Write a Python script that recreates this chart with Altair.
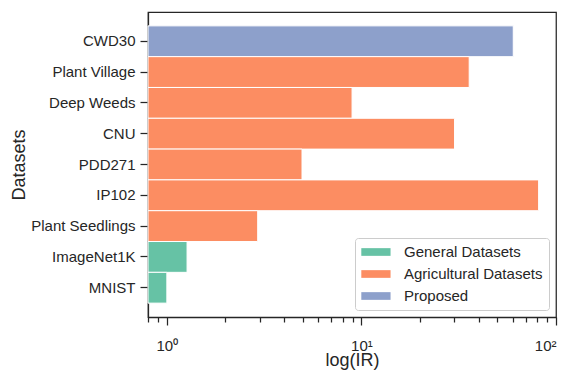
import math
import altair as alt
import pandas as pd

categories = ["CWD30", "Plant Village", "Deep Weeds", "CNU", "PDD271", "IP102",
              "Plant Seedlings", "ImageNet1K", "MNIST"]
ir_values = [60.3, 35.8, 8.95, 30.1, 4.95, 81.4, 2.93, 1.27, 1.0]
groups = ["Proposed", "Agricultural Datasets", "Agricultural Datasets",
          "Agricultural Datasets", "Agricultural Datasets", "Agricultural Datasets",
          "Agricultural Datasets", "General Datasets", "General Datasets"]
group_order = ["General Datasets", "Agricultural Datasets", "Proposed"]
group_colors = ["#66c2a5", "#fc8d62", "#8da0cb"]
x_min, x_max = 0.8, 100
x_ticks = [0.8, 0.9, 1, 2, 3, 4, 5, 6, 7, 8, 9, 10, 20, 30, 40, 50, 60, 70, 80, 90, 100]

df = pd.DataFrame({"Dataset": categories, "IR": ir_values, "Group": groups})

# log axis drawn on a linear scale of log10 values (log-scale bars do not render here)
log_ticks = [math.log10(t) for t in x_ticks]
log_domain = [math.log10(x_min), math.log10(x_max)]

FONT = "Liberation Sans"
INK = "#262626"
MAJOR = "abs(datum.value - round(datum.value)) < 1e-9"

chart = alt.Chart(df).transform_calculate(
    logIR="log(datum.IR) / LN10"
).mark_bar(stroke="white", strokeWidth=1).encode(
    y=alt.Y(
        "Dataset:N",
        sort=categories,
        scale=alt.Scale(paddingInner=0, paddingOuter=0.45),
        axis=alt.Axis(
            title="Datasets", titleFontSize=18, titleFont=FONT, titleColor=INK,
            titleFontWeight="normal", titleX=-124, titleBaseline="alphabetic",
            labelFontSize=15, labelFont=FONT, labelColor=INK, labelPadding=5,
            tickSize=8, tickWidth=1.25, tickColor=INK,
            domainColor=INK, domainWidth=1.25,
        ),
    ),
    x=alt.X(
        "logIR:Q",
        scale=alt.Scale(domain=log_domain, nice=False, zero=False),
        axis=alt.Axis(
            title="log(IR)", titleFontSize=18, titleFont=FONT, titleColor=INK,
            titleFontWeight="normal", titleY=48, titleBaseline="alphabetic",
            values=log_ticks,
            labelExpr="abs(datum.value) < 1e-9 ? '10⁰' : abs(datum.value - 1) < 1e-9 ? '10¹' : abs(datum.value - 2) < 1e-9 ? '10²' : ''",
            labelOverlap=False, labelFlush=True,
            labelFontSize=15, labelFont=FONT, labelColor=INK,
            labelBaseline="alphabetic", labelPadding=25,
            tickSize={"condition": {"test": MAJOR, "value": 8}, "value": 5},
            tickWidth=1.25, tickColor=INK,
            domainColor=INK, domainWidth=1.25, grid=False,
        ),
    ),
    x2=alt.datum(log_domain[0]),
    color=alt.Color(
        "Group:N",
        title=None,
        scale=alt.Scale(domain=group_order, range=group_colors),
        legend=alt.Legend(
            orient="bottom-right", offset=7, padding=6,
            strokeColor="#cccccc", cornerRadius=3, fillColor="white",
            labelFontSize=15, labelFont=FONT, labelColor=INK,
            symbolType="M-1,-0.5H2.8V0.5H-1Z", symbolSize=237, symbolStrokeWidth=0,
            symbolOpacity=1, labelOffset=27, rowPadding=6,
        ),
    ),
).properties(
    width=408, height=305,
    autosize=alt.AutoSizeParams(type="none"),
    padding={"left": 140, "top": 4, "right": 3, "bottom": 54},
    background="white",
).configure_view(
    stroke=INK, strokeWidth=1.25
)

chart.save("out.html", embed_options={"renderer": "svg", "actions": False})
